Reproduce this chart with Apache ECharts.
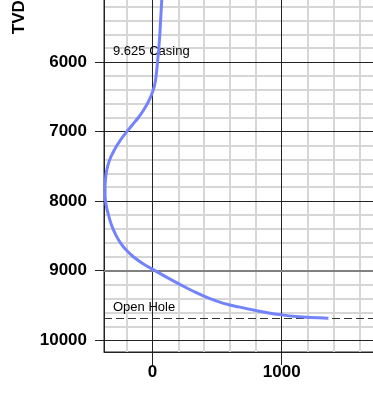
<!DOCTYPE html>
<html><head><meta charset="utf-8">
<script src="https://cdn.jsdelivr.net/npm/echarts@6/dist/echarts.min.js"></script>
<style>html,body{margin:0;padding:0;background:#fff}#c{width:373px;height:411px}</style>
</head><body><div id="c"></div>
<script>
// Well trajectory: true vertical depth (ft) and horizontal offset (ft)
const depthFt  = [5000, 5200, 5400, 5600, 5800, 6000, 6200, 6300, 6400, 6500, 6600, 6700, 6800, 6900, 7000, 7100, 7200, 7300, 7400, 7500, 7600, 7700, 7800, 7900, 8000, 8100, 8200, 8300, 8400, 8500, 8600, 8700, 8800, 8900, 9000, 9100, 9200, 9300, 9400, 9470, 9525, 9570, 9605, 9636, 9660, 9675, 9683];
const offsetFt = [75, 69, 63, 57, 49, 39, 28, 20, 6, -14, -40, -72, -110, -155, -198, -240, -275, -305, -330, -347, -358, -364, -367, -367, -363, -354, -340, -325, -305, -280, -248, -205, -148, -73, 20, 115, 215, 320, 440, 550, 675, 790, 890, 1000, 1110, 1220, 1361];

const depthTicks  = [0, 1000, 2000, 3000, 4000, 5000, 6000, 7000, 8000, 9000, 10000];
const depthMinor  = [200, 400, 600, 800, 1200, 1400, 1600, 1800, 2200, 2400, 2600, 2800, 3200, 3400, 3600, 3800, 4200, 4400, 4600, 4800, 5200, 5400, 5600, 5800, 6200, 6400, 6600, 6800, 7200, 7400, 7600, 7800, 8200, 8400, 8600, 8800, 9200, 9400, 9600, 9800];
const offsetTicks = [0, 1000, 2000];
const offsetMinor = [-200, 200, 400, 600, 800, 1200, 1400, 1600, 1800];

const casingDepth = 6000, casingLabel = '9.625 Casing';
const openHoleDepth = 9680, openHoleLabel = 'Open Hole';
const heavyGridDepth = 9000;

const xMin = -375, xMax = 2000, yMin = 0, yMax = 10170;

const FONT = 'Liberation Sans';
const chart = echarts.init(document.getElementById('c'), null, {renderer: 'canvas'});
const majorLine = {show: true, lineStyle: {color: '#222', width: 1}};
const minorLine = {show: true, lineStyle: {color: '#d6d6d6', width: 2}};

chart.setOption({
  animation: false,
  backgroundColor: '#fff',
  grid: {left: 104, right: -38, top: -355, bottom: 59, show: true, borderColor: '#222', borderWidth: 1,
         containLabel: false, outerBoundsMode: 'none'},
  xAxis: [
    {type: 'value', min: xMin, max: xMax, position: 'bottom',
     axisLine: {show: true, onZero: false, lineStyle: {color: '#222', width: 1}},
     axisTick: {show: true, length: 13, customValues: offsetTicks, lineStyle: {color: '#222'}},
     axisLabel: {show: true, customValues: offsetTicks, margin: 12, color: '#000', fontFamily: FONT, fontWeight: 'bold', fontSize: 17,
                 formatter: v => String(v)},
     splitLine: majorLine, z: 3},
    {type: 'value', min: xMin, max: xMax, position: 'bottom',
     axisLine: {show: false}, axisTick: {show: false, customValues: offsetMinor},
     axisLabel: {show: false}, splitLine: minorLine, z: 1}
  ],
  yAxis: [
    {type: 'value', inverse: true, min: yMin, max: yMax, position: 'left',
     name: 'TVD (ft)', nameLocation: 'middle', nameGap: 76,
     nameTextStyle: {color: '#000', fontFamily: FONT, fontWeight: 'bold', fontSize: 17, padding: [0, 10, 0, 0]},
     axisLine: {show: true, onZero: false, lineStyle: {color: '#222', width: 1}},
     axisTick: {show: true, length: 9, customValues: depthTicks, lineStyle: {color: '#222'}},
     axisLabel: {show: true, customValues: depthTicks, margin: 17, color: '#000', fontFamily: FONT, fontWeight: 'bold', fontSize: 17,
                 formatter: v => String(v)},
     splitLine: majorLine, z: 3},
    {type: 'value', inverse: true, min: yMin, max: yMax, position: 'left',
     axisLine: {show: false}, axisTick: {show: false, customValues: depthMinor},
     axisLabel: {show: false}, splitLine: minorLine, z: 1}
  ],
  series: [{
    type: 'line', xAxisIndex: 0, yAxisIndex: 0,
    data: depthFt.map((d, i) => [offsetFt[i], d]),
    showSymbol: false, smooth: 0.4, clip: true, z: 5,
    lineStyle: {color: '#7383fb', width: 3},
    markLine: {
      silent: true, symbol: ['none', 'none'], animation: false,
      data: [
        {yAxis: heavyGridDepth, lineStyle: {color: '#808080', width: 2, type: 'solid'}, label: {show: false}},
        {yAxis: casingDepth, lineStyle: {color: '#222', width: 1, type: 'solid'},
         label: {formatter: casingLabel}},
        {yAxis: openHoleDepth, lineStyle: {color: '#333', width: 1, type: [8, 4]},
         label: {formatter: openHoleLabel}}
      ],
      label: {show: true, position: 'insideStartTop', distance: [9, 4], color: '#000', fontFamily: FONT, fontSize: 13}
    }
  }]
});
</script></body></html>
